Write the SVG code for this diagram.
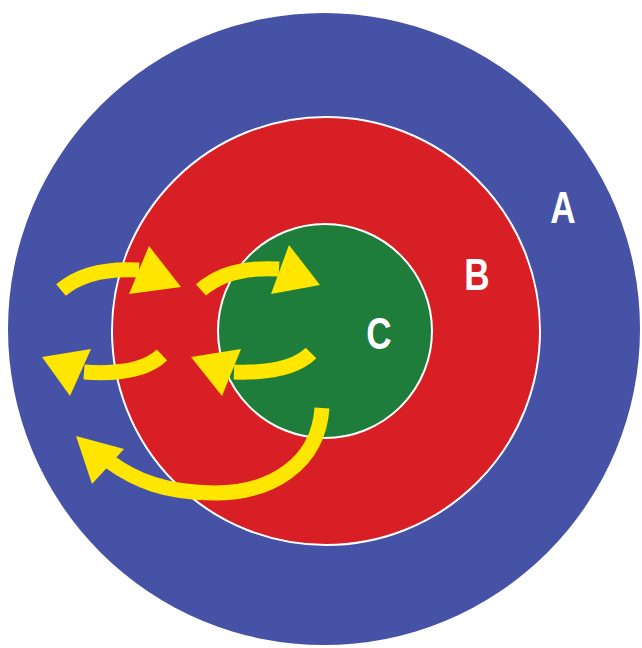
<svg xmlns="http://www.w3.org/2000/svg" width="642" height="648" viewBox="0 0 642 648">
<style>
.ring{stroke:#ffffff;stroke-width:2}
.lbl{font-family:"Liberation Sans","DejaVu Sans",sans-serif;font-weight:bold;font-size:45px;fill:#ffffff;text-anchor:middle}
.body{fill:none;stroke:#ffe600;stroke-width:15;stroke-linecap:butt}
.head{fill:#ffe600}
</style>
<rect width="642" height="648" fill="#ffffff"/>
<g id="A">
<circle cx="324" cy="329" r="316" fill="#4552a5"/>
<text class="lbl" transform="translate(563,223) scale(0.78,1)">A</text>
</g>
<g id="B">
<circle class="ring" cx="326" cy="331" r="214" fill="#d91f26"/>
<text class="lbl" transform="translate(477,290) scale(0.78,1)">B</text>
</g>
<g id="C">
<circle class="ring" cx="325" cy="331" r="107" fill="#1f7d3c"/>
<text class="lbl" transform="translate(379,349) scale(0.78,1)">C</text>
</g>
<g id="connectors">
<path class="body" d="M61,290 Q88,267 139,270"/>
<polygon class="head" points="149,246 181,287 129,294"/>
<path class="body" d="M201,290 Q228,266 279,269"/>
<polygon class="head" points="289,245 320,285 271,294"/>
<path class="body" d="M162,355 Q140,376 84,372"/>
<polygon class="head" points="91,349 42,357 70,396"/>
<path class="body" d="M311,353 Q290,374 234,372"/>
<polygon class="head" points="241,349 191,357 222,396"/>
<path class="body" d="M322,408 C318,465 270,493 215,493 C165,493 135,480 110,462"/>
<polygon class="head" points="76,436 124,449 92,484"/>
</g>
</svg>
